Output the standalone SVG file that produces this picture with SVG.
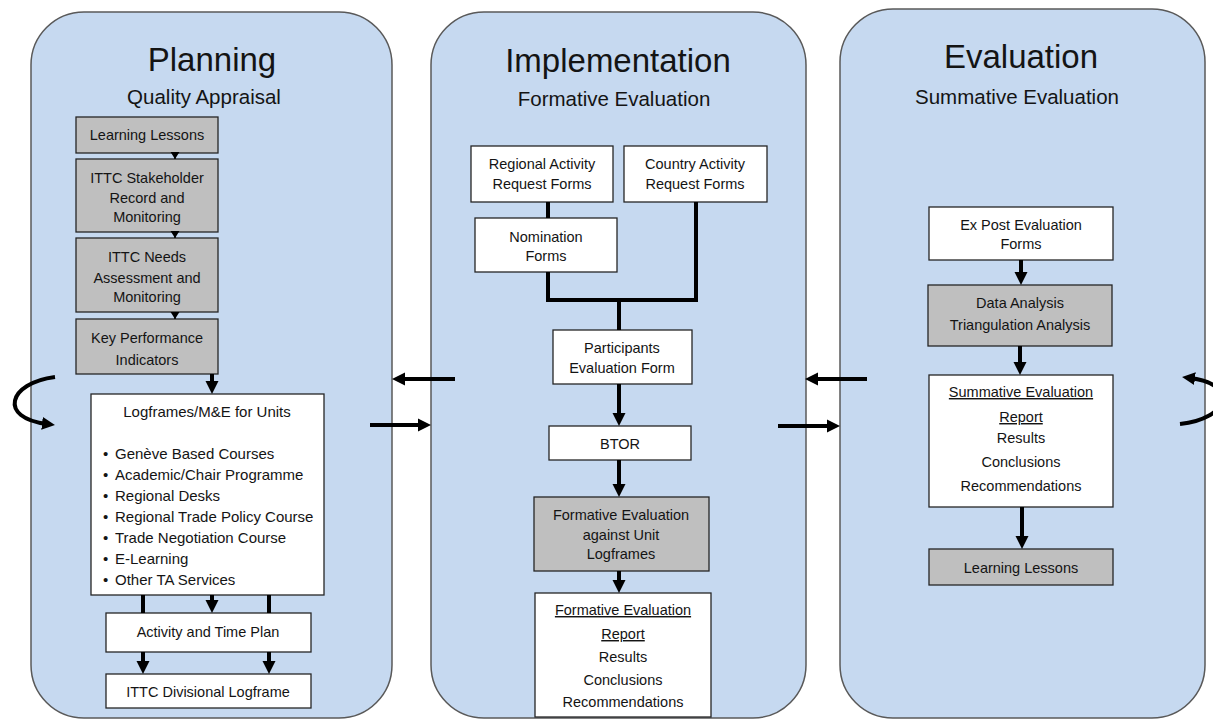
<svg xmlns="http://www.w3.org/2000/svg" width="1213" height="720" viewBox="0 0 1213 720">
<style>
text{font-family:"Liberation Sans",Arial,sans-serif;fill:#141414;text-anchor:middle}
.panel{fill:#c6d9f0;stroke:#595959;stroke-width:1.5}
.title{font-size:33px}
.sub{font-size:20.5px}
.t{font-size:14.5px}
.l{font-size:15px;text-anchor:start}
.u{text-decoration:underline}
.w{fill:#fff;stroke:#262626;stroke-width:1.3}
.g{fill:#bfbfbf;stroke:#262626;stroke-width:1.3}
.c{fill:none;stroke:#000;stroke-width:4}
.cs{fill:none;stroke:#000;stroke-width:1.5}
</style>
<defs>
<marker id="ah" markerUnits="userSpaceOnUse" markerWidth="14" markerHeight="14" refX="5" refY="7" orient="auto" viewBox="0 0 14 14"><path d="M0,0.5 L13,7 L0,13.5 z" fill="#000"/></marker>
<marker id="ahs" markerUnits="userSpaceOnUse" markerWidth="9" markerHeight="10" refX="7" refY="5" orient="auto" viewBox="0 0 9 10"><path d="M0,0.5 L7,5 L0,9.5 z" fill="#000"/></marker>
</defs>

<g id="panel-planning">
<rect class="panel" x="31" y="12" width="361" height="706" rx="53" ry="53"/>
<text class="title" x="212" y="71">Planning</text>
<text class="sub" x="204" y="104">Quality Appraisal</text>
</g>
<g id="panel-implementation">
<rect class="panel" x="431" y="12" width="375" height="706" rx="53" ry="53"/>
<text class="title" x="618" y="72">Implementation</text>
<text class="sub" x="614" y="106">Formative Evaluation</text>
</g>
<g id="panel-evaluation">
<rect class="panel" x="840" y="9" width="365" height="709" rx="53" ry="53"/>
<text class="title" x="1021" y="68">Evaluation</text>
<text class="sub" x="1017" y="104">Summative Evaluation</text>
</g>

<g id="p-learning">
<rect class="g" x="76" y="117" width="142" height="36"/>
<text class="t" x="147" y="140">Learning Lessons</text>
</g>
<g id="p-stakeholder">
<rect class="g" x="76" y="159" width="142" height="73"/>
<text class="t" x="147" y="183">ITTC Stakeholder</text>
<text class="t" x="147" y="203">Record and</text>
<text class="t" x="147" y="222">Monitoring</text>
</g>
<g id="p-needs">
<rect class="g" x="76" y="238" width="142" height="74"/>
<text class="t" x="147" y="262">ITTC Needs</text>
<text class="t" x="147" y="283">Assessment and</text>
<text class="t" x="147" y="302">Monitoring</text>
</g>
<g id="p-kpi">
<rect class="g" x="76" y="319" width="142" height="55"/>
<text class="t" x="147" y="343">Key Performance</text>
<text class="t" x="147" y="365">Indicators</text>
</g>
<g id="p-logframes">
<rect class="w" x="91" y="394" width="233" height="201"/>
<text class="t" x="207" y="417" style="font-size:15px">Logframes/M&amp;E for Units</text>
<text class="l" x="103" y="459">•</text><text class="l" x="115" y="459">Genève Based Courses</text>
<text class="l" x="103" y="480">•</text><text class="l" x="115" y="480">Academic/Chair Programme</text>
<text class="l" x="103" y="501">•</text><text class="l" x="115" y="501">Regional Desks</text>
<text class="l" x="103" y="522">•</text><text class="l" x="115" y="522">Regional Trade Policy Course</text>
<text class="l" x="103" y="543">•</text><text class="l" x="115" y="543">Trade Negotiation Course</text>
<text class="l" x="103" y="564">•</text><text class="l" x="115" y="564">E-Learning</text>
<text class="l" x="103" y="585">•</text><text class="l" x="115" y="585">Other TA Services</text>
</g>
<g id="p-activity">
<rect class="w" x="106" y="613" width="205" height="39"/>
<text class="t" x="208" y="637">Activity and Time Plan</text>
</g>
<g id="p-divisional">
<rect class="w" x="106" y="674" width="205" height="34"/>
<text class="t" x="208" y="697">ITTC Divisional Logframe</text>
</g>

<g id="i-regional">
<rect class="w" x="471" y="146" width="142" height="56"/>
<text class="t" x="542" y="169">Regional Activity</text>
<text class="t" x="542" y="189">Request Forms</text>
</g>
<g id="i-country">
<rect class="w" x="624" y="146" width="143" height="56"/>
<text class="t" x="695" y="169">Country Activity</text>
<text class="t" x="695" y="189">Request Forms</text>
</g>
<g id="i-nomination">
<rect class="w" x="475" y="218" width="142" height="54"/>
<text class="t" x="546" y="242">Nomination</text>
<text class="t" x="546" y="261">Forms</text>
</g>
<g id="i-participants">
<rect class="w" x="553" y="330" width="139" height="54"/>
<text class="t" x="622" y="353">Participants</text>
<text class="t" x="622" y="373">Evaluation Form</text>
</g>
<g id="i-btor">
<rect class="w" x="549" y="426" width="142" height="34"/>
<text class="t" x="620" y="449">BTOR</text>
</g>
<g id="i-formative">
<rect class="g" x="534" y="497" width="175" height="74"/>
<text class="t" x="621" y="520">Formative Evaluation</text>
<text class="t" x="621" y="540">against Unit</text>
<text class="t" x="621" y="559">Logframes</text>
</g>
<g id="i-report">
<rect class="w" x="535" y="593" width="176" height="124"/>
<text class="t u" x="623" y="615">Formative Evaluation</text>
<text class="t u" x="623" y="639">Report</text>
<text class="t" x="623" y="662">Results</text>
<text class="t" x="623" y="685">Conclusions</text>
<text class="t" x="623" y="707">Recommendations</text>
</g>

<g id="e-expost">
<rect class="w" x="929" y="207" width="184" height="53"/>
<text class="t" x="1021" y="230">Ex Post Evaluation</text>
<text class="t" x="1021" y="249">Forms</text>
</g>
<g id="e-analysis">
<rect class="g" x="928" y="285" width="184" height="61"/>
<text class="t" x="1020" y="308">Data Analysis</text>
<text class="t" x="1020" y="330">Triangulation Analysis</text>
</g>
<g id="e-report">
<rect class="w" x="929" y="375" width="184" height="132"/>
<text class="t u" x="1021" y="397">Summative Evaluation</text>
<text class="t u" x="1021" y="422">Report</text>
<text class="t" x="1021" y="443">Results</text>
<text class="t" x="1021" y="467">Conclusions</text>
<text class="t" x="1021" y="491">Recommendations</text>
</g>
<g id="e-learning">
<rect class="g" x="929" y="549" width="184" height="36"/>
<text class="t" x="1021" y="573">Learning Lessons</text>
</g>

<g id="connectors">
<line class="cs" x1="175" y1="153" x2="175" y2="159" marker-end="url(#ahs)"/>
<line class="cs" x1="175" y1="232" x2="175" y2="238" marker-end="url(#ahs)"/>
<line class="cs" x1="175" y1="312" x2="175" y2="319" marker-end="url(#ahs)"/>
<line class="c" x1="212" y1="374" x2="212" y2="386" marker-end="url(#ah)"/>
<line class="c" x1="143" y1="595" x2="143" y2="613"/>
<line class="c" x1="269" y1="595" x2="269" y2="613"/>
<line class="c" x1="212" y1="595" x2="212" y2="605" marker-end="url(#ah)"/>
<line class="c" x1="143" y1="652" x2="143" y2="666" marker-end="url(#ah)"/>
<line class="c" x1="269" y1="652" x2="269" y2="666" marker-end="url(#ah)"/>

<line class="c" x1="548" y1="202" x2="548" y2="218"/>
<path class="c" d="M548,272 V300 H696 V202"/>
<line class="c" x1="619" y1="300" x2="619" y2="330"/>
<line class="c" x1="619" y1="384" x2="619" y2="418" marker-end="url(#ah)"/>
<line class="c" x1="619" y1="460" x2="619" y2="489" marker-end="url(#ah)"/>
<line class="c" x1="619" y1="571" x2="619" y2="585" marker-end="url(#ah)"/>

<line class="c" x1="1021" y1="260" x2="1021" y2="277" marker-end="url(#ah)"/>
<line class="c" x1="1020" y1="346" x2="1020" y2="367" marker-end="url(#ah)"/>
<line class="c" x1="1022" y1="507" x2="1022" y2="541" marker-end="url(#ah)"/>

<line class="c" x1="370" y1="425" x2="423" y2="425" marker-end="url(#ah)"/>
<line class="c" x1="455" y1="379" x2="400" y2="379" marker-end="url(#ah)"/>
<line class="c" x1="778" y1="426" x2="832" y2="426" marker-end="url(#ah)"/>
<line class="c" x1="867" y1="379" x2="813" y2="379" marker-end="url(#ah)"/>

<path class="c" d="M55,377 C8,383 -2,418 47,424" marker-end="url(#ah)"/>
<path class="c" d="M1180,424 C1229,419 1239,384 1190,378" marker-end="url(#ah)"/>
</g>
</svg>
